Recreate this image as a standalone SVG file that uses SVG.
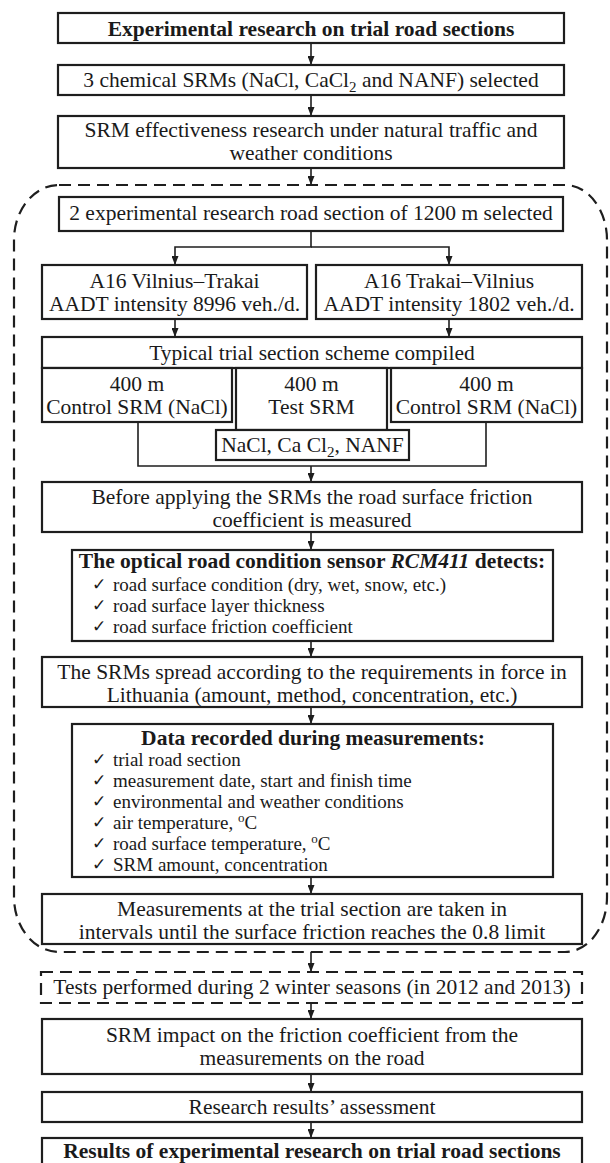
<svg xmlns="http://www.w3.org/2000/svg" width="610" height="1163" viewBox="0 0 610 1163">
<style>
.box{fill:#fff;stroke:#1e1e1e;stroke-width:2.2}
.dbox{fill:#fff;stroke:#1e1e1e;stroke-width:2.2;stroke-dasharray:12 7}
.t{font-family:"Liberation Serif","DejaVu Serif",serif;font-size:21.5px;fill:#1a1a1a;text-anchor:middle}
.b{font-weight:bold}
.i{font-family:"Liberation Serif","DejaVu Serif",serif;font-size:19px;fill:#1a1a1a}
.ck{font-family:"DejaVu Sans",sans-serif;font-size:17px;fill:#1a1a1a}
.c{fill:none;stroke:#1e1e1e;stroke-width:1.6}
</style>
<defs>
<marker id="ah" viewBox="0 0 9 7" refX="9" refY="3.5" markerWidth="9" markerHeight="7" markerUnits="userSpaceOnUse" orient="auto">
<path d="M0,0 L9,3.5 L0,7 z" fill="#1e1e1e"/>
</marker>
</defs>
<rect width="610" height="1163" fill="#fff"/>

<g id="region">
<path class="c" style="stroke-width:2.2;stroke-dasharray:12 7" d="M59,185 L565,185 A42,55 0 0 1 607,240 L607,897 A42,55 0 0 1 565,952 L59,952 A45,55 0 0 1 14,897 L14,240 A45,55 0 0 1 59,185 Z"/>
</g>

<g id="connectors">
<line class="c" x1="311" y1="43" x2="311" y2="65" marker-end="url(#ah)"/>
<line class="c" x1="311" y1="95" x2="311" y2="116" marker-end="url(#ah)"/>
<line class="c" x1="311" y1="168" x2="311" y2="185" marker-end="url(#ah)"/>
<polyline class="c" points="311,231 311,247 175,247 175,265" marker-end="url(#ah)"/>
<polyline class="c" points="311,247 449,247 449,265" marker-end="url(#ah)"/>
<line class="c" x1="175" y1="319" x2="175" y2="337" marker-end="url(#ah)"/>
<line class="c" x1="449" y1="319" x2="449" y2="337" marker-end="url(#ah)"/>
<polyline class="c" points="138,422 138,466 486,466 486,422"/>
<line class="c" x1="311" y1="466" x2="311" y2="482" marker-end="url(#ah)"/>
<line class="c" x1="311" y1="532" x2="311" y2="550" marker-end="url(#ah)"/>
<line class="c" x1="311" y1="641" x2="311" y2="657" marker-end="url(#ah)"/>
<line class="c" x1="311" y1="707" x2="311" y2="724" marker-end="url(#ah)"/>
<line class="c" x1="311" y1="877" x2="311" y2="894" marker-end="url(#ah)"/>
<line class="c" x1="311" y1="952" x2="311" y2="972" marker-end="url(#ah)"/>
<line class="c" x1="311" y1="1003" x2="311" y2="1019" marker-end="url(#ah)"/>
<line class="c" x1="311" y1="1074" x2="311" y2="1092" marker-end="url(#ah)"/>
<line class="c" x1="311" y1="1122" x2="311" y2="1138" marker-end="url(#ah)"/>
</g>

<g id="n1">
<rect class="box" x="58" y="13" width="506" height="30"/>
<text class="t b" x="311" y="36">Experimental research on trial road sections</text>
</g>
<g id="n2">
<rect class="box" x="58" y="65" width="506" height="30"/>
<text class="t" x="311" y="87">3 chemical SRMs (NaCl, CaCl<tspan dy="5" font-size="15">2</tspan><tspan dy="-5"> and NANF) selected</tspan></text>
</g>
<g id="n3">
<rect class="box" x="58" y="116" width="506" height="52"/>
<text class="t" x="311" y="137">SRM effectiveness research under natural traffic and</text>
<text class="t" x="311" y="160">weather conditions</text>
</g>
<g id="n4">
<rect class="box" x="59" y="197" width="504" height="34"/>
<text class="t" x="311" y="220">2 experimental research road section of 1200 m selected</text>
</g>
<g id="n5">
<rect class="box" x="42" y="265" width="265" height="54"/>
<text class="t" x="174.5" y="288">A16 Vilnius–Trakai</text>
<text class="t" x="174.5" y="311">AADT intensity 8996 veh./d.</text>
</g>
<g id="n6">
<rect class="box" x="316" y="265" width="266" height="54"/>
<text class="t" x="449" y="288">A16 Trakai–Vilnius</text>
<text class="t" x="449" y="311">AADT intensity 1802 veh./d.</text>
</g>
<g id="n7">
<rect class="box" x="42" y="337" width="540" height="31"/>
<text class="t" x="312" y="360">Typical trial section scheme compiled</text>
</g>
<g id="n8">
<rect class="box" x="42" y="368" width="190" height="54"/>
<text class="t" x="137" y="391">400 m</text>
<text class="t" x="137" y="414">Control SRM (NaCl)</text>
</g>
<g id="n9">
<rect class="box" x="236" y="368" width="151" height="62"/>
<text class="t" x="311.5" y="391">400 m</text>
<text class="t" x="311.5" y="414">Test SRM</text>
</g>
<g id="n10">
<rect class="box" x="391" y="368" width="191" height="54"/>
<text class="t" x="486.5" y="391">400 m</text>
<text class="t" x="486.5" y="414">Control SRM (NaCl)</text>
</g>
<g id="n11">
<rect class="box" x="216" y="430" width="193" height="30"/>
<text class="t" x="312.5" y="452">NaCl, Ca Cl<tspan dy="5" font-size="15">2</tspan><tspan dy="-5">, NANF</tspan></text>
</g>
<g id="n12">
<rect class="box" x="42" y="482" width="540" height="50"/>
<text class="t" x="312" y="504">Before applying the SRMs the road surface friction</text>
<text class="t" x="312" y="527">coefficient is measured</text>
</g>
<g id="n13">
<rect class="box" x="72" y="550" width="481" height="91"/>
<text class="t b" x="312" y="568">The optical road condition sensor <tspan font-style="italic">RCM411</tspan> detects:</text>
<text class="ck" x="92" y="590">✓</text><text class="i" x="113" y="591">road surface condition (dry, wet, snow, etc.)</text>
<text class="ck" x="92" y="611">✓</text><text class="i" x="113" y="612">road surface layer thickness</text>
<text class="ck" x="92" y="632">✓</text><text class="i" x="113" y="633">road surface friction coefficient</text>
</g>
<g id="n14">
<rect class="box" x="42" y="657" width="540" height="50"/>
<text class="t" x="312" y="679">The SRMs spread according to the requirements in force in</text>
<text class="t" x="312" y="702">Lithuania (amount, method, concentration, etc.)</text>
</g>
<g id="n15">
<rect class="box" x="72" y="724" width="481" height="153"/>
<text class="t b" x="313" y="745">Data recorded during measurements:</text>
<text class="ck" x="92" y="765">✓</text><text class="i" x="113" y="766">trial road section</text>
<text class="ck" x="92" y="786">✓</text><text class="i" x="113" y="787">measurement date, start and finish time</text>
<text class="ck" x="92" y="807">✓</text><text class="i" x="113" y="808">environmental and weather conditions</text>
<text class="ck" x="92" y="828">✓</text><text class="i" x="113" y="829">air temperature, <tspan dy="-7" font-size="13">o</tspan><tspan dy="7">C</tspan></text>
<text class="ck" x="92" y="849">✓</text><text class="i" x="113" y="850">road surface temperature, <tspan dy="-7" font-size="13">o</tspan><tspan dy="7">C</tspan></text>
<text class="ck" x="92" y="870">✓</text><text class="i" x="113" y="871">SRM amount, concentration</text>
</g>
<g id="n16">
<rect class="box" x="42" y="894" width="540" height="50"/>
<text class="t" x="312" y="916">Measurements at the trial section are taken in</text>
<text class="t" x="312" y="939">intervals until the surface friction reaches the 0.8 limit</text>
</g>
<g id="n17">
<rect class="dbox" x="41" y="972" width="541" height="31"/>
<text class="t" x="312" y="994">Tests performed during 2 winter seasons (in 2012 and 2013)</text>
</g>
<g id="n18">
<rect class="box" x="42" y="1019" width="540" height="55"/>
<text class="t" x="312" y="1042">SRM impact on the friction coefficient from the</text>
<text class="t" x="312" y="1065">measurements on the road</text>
</g>
<g id="n19">
<rect class="box" x="42" y="1092" width="540" height="30"/>
<text class="t" x="312" y="1114">Research results’ assessment</text>
</g>
<g id="n20">
<rect class="box" x="42" y="1138" width="540" height="32"/>
<text class="t b" x="312" y="1158">Results of experimental research on trial road sections</text>
</g>
</svg>
